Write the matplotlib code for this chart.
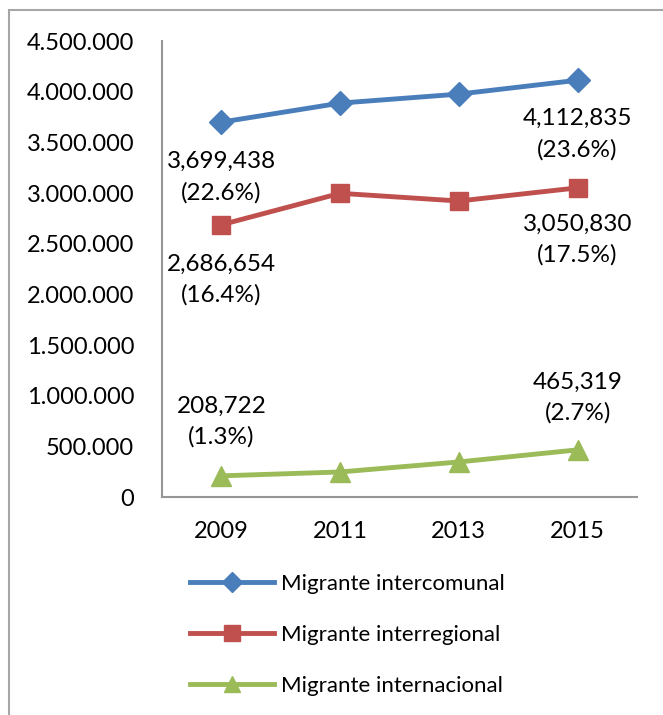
import matplotlib
matplotlib.use('Agg')
import matplotlib.pyplot as plt
from matplotlib.patches import Rectangle
from matplotlib.ticker import FuncFormatter


years = ['2009', '2011', '2013', '2015']
intercomunal = [3699438, 3887000, 3976000, 4112835]
interregional = [2686654, 2997000, 2921000, 3050830]
internacional = [208722, 247000, 346000, 465319]

labels_first = ['3,699,438\n(22.6%)', '2,686,654\n(16.4%)', '208,722\n(1.3%)']
labels_last = ['4,112,835\n(23.6%)', '3,050,830\n(17.5%)', '465,319\n(2.7%)']

names = ['Migrante intercomunal', 'Migrante interregional',
         'Migrante internacional']
colors = ['#4a7ebb', '#c0504d', '#9bbb59']
markers = ['D', 's', '^']


def dots(v, pos):
    return '{:,.0f}'.format(v).replace(',', '.')


def px(v):
    # pixels -> points at 100 dpi
    return v * 72 / 100


def main():
    plt.rcParams['font.family'] = ['Lato', 'DejaVu Sans']
    plt.rcParams['font.size'] = 17

    fig = plt.figure(figsize=(6.63, 7.15), dpi=100)
    fig.patches.append(Rectangle((9 / 663, -0.1), 1.2, 1.1 - 10 / 715,
                                 transform=fig.transFigure, fill=False,
                                 edgecolor='#a6a6a6', linewidth=1.5))
    ax = fig.add_axes([162 / 663, 1 - 497 / 715, 475 / 663, 456 / 715])

    x = list(range(len(years)))
    series = [intercomunal, interregional, internacional]
    sizes = [12, 13, 14]
    for s, name, c, m, ms in zip(series, names, colors, markers, sizes):
        ax.plot(x, s, color=c, marker=m, markersize=ms, linewidth=3.5,
                label=name)

    # labels under first/last points for the top two, above for the green one
    offsets = [(-55, -54), (-55, -52), (54, 52)]
    for s, lf, ll, off in zip(series, labels_first, labels_last, offsets):
        ax.annotate(lf, (x[0], s[0]), xytext=(0, px(off[0])),
                    textcoords='offset points', ha='center', va='center',
                    linespacing=1.55, fontsize=17.5)
        ax.annotate(ll, (x[-1], s[-1]), xytext=(0, px(off[1])),
                    textcoords='offset points', ha='center', va='center',
                    linespacing=1.55, fontsize=17.5)

    ax.set_xlim(-0.5, 3.5)
    ax.set_ylim(0, 4500000)
    ax.set_yticks(range(0, 4500001, 500000))
    ax.yaxis.set_major_formatter(FuncFormatter(dots))
    ax.set_xticks(x)
    ax.set_xticklabels(years)
    ax.tick_params(axis='both', length=0)
    ax.tick_params(axis='x', pad=17)
    ax.tick_params(axis='y', pad=20)
    for side in ['top', 'right']:
        ax.spines[side].set_visible(False)
    for side in ['left', 'bottom']:
        ax.spines[side].set_color('#969696')
        ax.spines[side].set_linewidth(1.5)

    ax.legend(loc='upper left', bbox_to_anchor=(190 / 663, 1 - 574 / 715),
              bbox_transform=fig.transFigure, frameon=False,
              handlelength=3.8, handletextpad=0.3, labelspacing=1.4,
              borderaxespad=0, borderpad=0, fontsize=16, markerscale=0.85)

    fig.savefig('out.png', dpi=100)


if __name__ == '__main__':
    main()
